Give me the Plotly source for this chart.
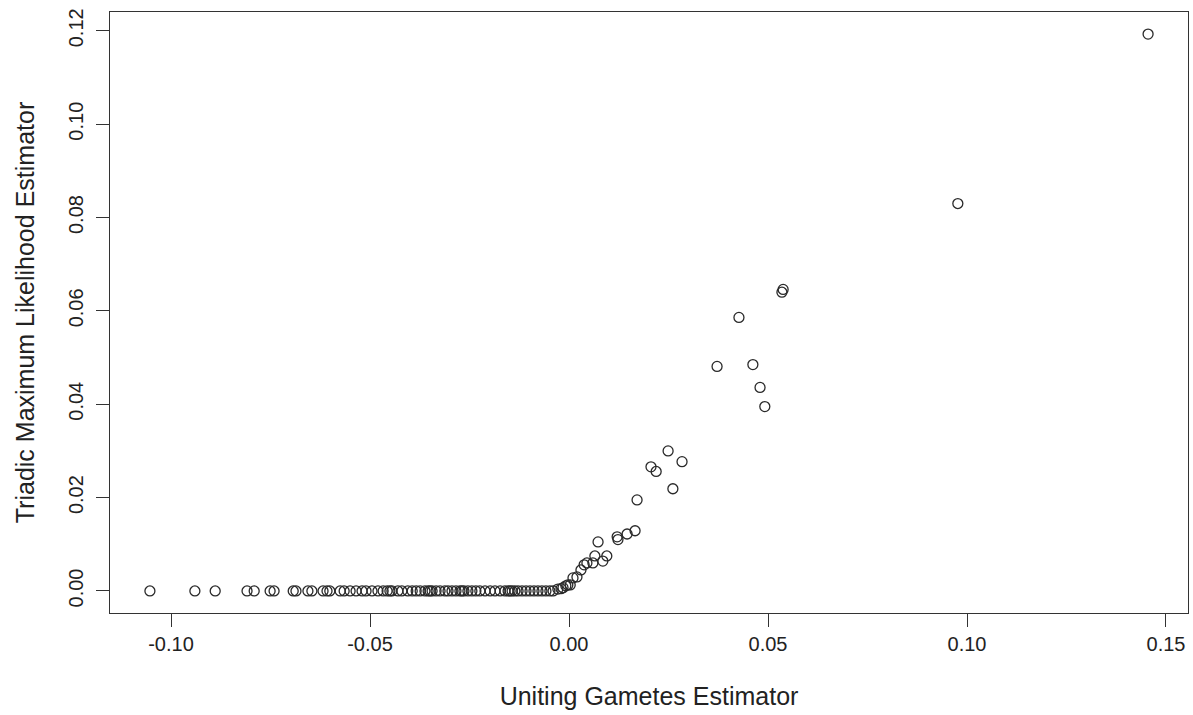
import plotly.graph_objects as go

# Uniting gametes estimator vs triadic maximum likelihood estimator (inbreeding)
# Points whose ML estimate collapses to the boundary at zero
ug_zero = [
    -0.1053, -0.0940, -0.0889, -0.0809, -0.0791, -0.0751, -0.0741, -0.0693,
    -0.0686, -0.0656, -0.0646, -0.0618, -0.0608, -0.0601, -0.0575, -0.0565,
    -0.0550, -0.0535, -0.0520, -0.0510, -0.0495, -0.0480, -0.0467, -0.0457,
    -0.0450, -0.0445, -0.0430, -0.0420, -0.0405, -0.0394, -0.0384, -0.0374,
    -0.0362, -0.0354, -0.0349, -0.0344, -0.0334, -0.0324, -0.0312, -0.0304,
    -0.0294, -0.0284, -0.0274, -0.0269, -0.0264, -0.0254, -0.0244, -0.0234,
    -0.0224, -0.0211, -0.0198, -0.0186, -0.0173, -0.0161, -0.0153, -0.0148,
    -0.0143, -0.0136, -0.0128, -0.0118, -0.0108, -0.0098, -0.0088, -0.0078,
    -0.0068, -0.0058, -0.0048, -0.0040,
]
tml_zero = [0.0] * len(ug_zero)

# Points with a positive ML estimate
ug_pos = [
    -0.0028, -0.0020, -0.0015, -0.0008, -0.0003, 0.0003, 0.0010, 0.0020,
    0.0030, 0.0038, 0.0045, 0.0060, 0.0065, 0.0085, 0.0095, 0.0073,
    0.0121, 0.0123, 0.0146, 0.0166, 0.0171, 0.0206, 0.0219, 0.0249,
    0.0261, 0.0284, 0.0372, 0.0427, 0.0462, 0.0480, 0.0492, 0.0535,
    0.0538, 0.0977, 0.1455,
]
tml_pos = [
    0.0004, 0.0005, 0.0007, 0.0011, 0.0013, 0.0013, 0.0028, 0.0030,
    0.0045, 0.0056, 0.0060, 0.0060, 0.0075, 0.0064, 0.0075, 0.0105,
    0.0116, 0.0110, 0.0122, 0.0129, 0.0195, 0.0266, 0.0256, 0.0300,
    0.0219, 0.0277, 0.0481, 0.0586, 0.0485, 0.0436, 0.0395, 0.0640,
    0.0646, 0.0830, 0.1193,
]

x_ticks = [-0.10, -0.05, 0.00, 0.05, 0.10, 0.15]
x_tick_text = ["-0.10", "-0.05", "0.00", "0.05", "0.10", "0.15"]
y_ticks = [0.00, 0.02, 0.04, 0.06, 0.08, 0.10, 0.12]
y_tick_text = ["0.00", "0.02", "0.04", "0.06", "0.08", "0.10", "0.12"]

x_all = ug_zero + ug_pos
y_all = tml_zero + tml_pos

font_family = "Liberation Sans, Arial, sans-serif"

fig = go.Figure(
    go.Scatter(
        x=x_all,
        y=y_all,
        mode="markers",
        marker=dict(
            symbol="circle-open",
            size=10,
            color="#2a2a2a",
            line=dict(width=1.3, color="#2a2a2a"),
        ),
        hoverinfo="x+y",
    )
)

fig.update_layout(
    width=1193,
    height=715,
    margin=dict(l=110, r=5, t=12, b=102),
    paper_bgcolor="white",
    plot_bgcolor="white",
    showlegend=False,
    font=dict(family=font_family, color="#222222"),
)

fig.update_xaxes(
    range=[-0.11533, 0.15553],
    tickvals=x_ticks,
    ticktext=x_tick_text,
    ticks="outside",
    ticklen=13,
    tickwidth=1,
    tickcolor="#333333",
    tickfont=dict(size=20),
    ticklabelstandoff=0,
    showline=True,
    mirror=True,
    linecolor="#333333",
    linewidth=1,
    showgrid=False,
    zeroline=False,
    title=dict(text="Uniting Gametes Estimator", font=dict(size=25), standoff=33),
)

fig.update_yaxes(
    range=[-0.00472, 0.12403],
    tickvals=y_ticks,
    ticktext=y_tick_text,
    ticks="outside",
    ticklen=13,
    tickwidth=1,
    tickcolor="#333333",
    tickangle=-90,
    tickfont=dict(size=20),
    ticklabelstandoff=5,
    showline=True,
    mirror=True,
    linecolor="#333333",
    linewidth=1,
    showgrid=False,
    zeroline=False,
    title=dict(text="Triadic Maximum Likelihood Estimator", font=dict(size=25), standoff=23),
)

fig.write_html("out.html")
